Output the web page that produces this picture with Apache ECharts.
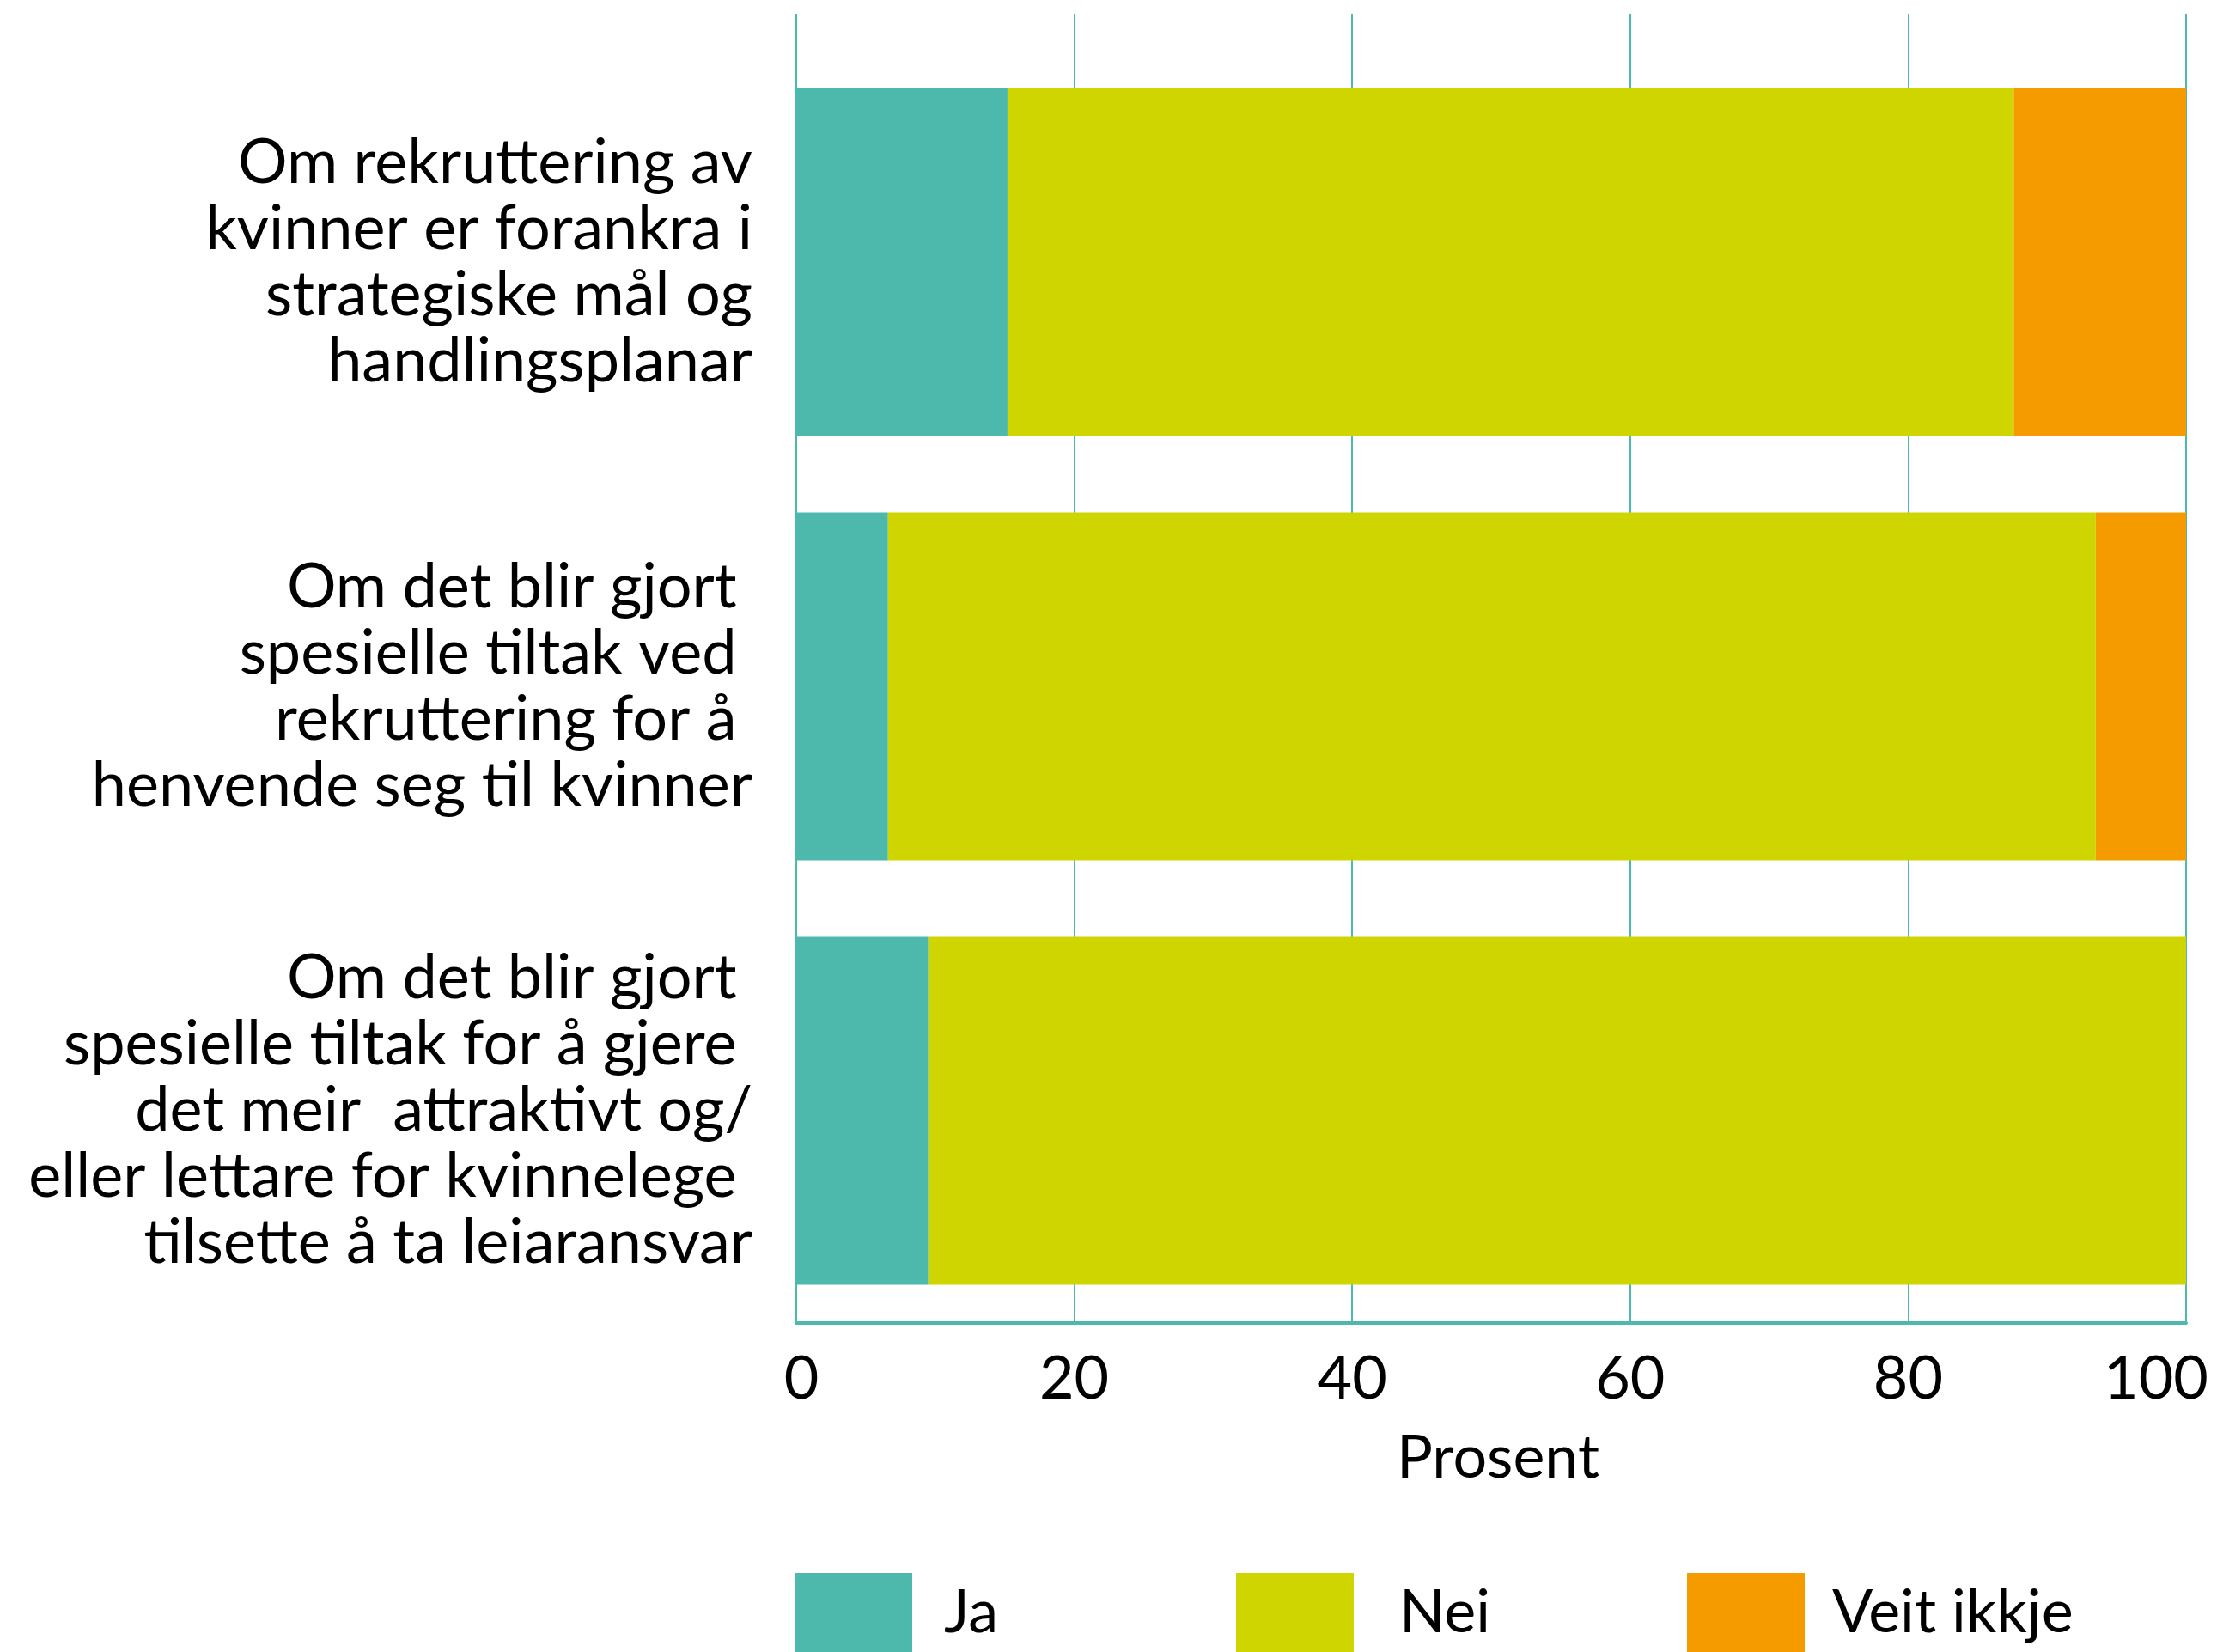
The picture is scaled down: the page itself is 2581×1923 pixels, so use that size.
<!DOCTYPE html>
<html>
<head>
<meta charset="utf-8">
<script src="https://cdn.jsdelivr.net/npm/echarts@6/dist/echarts.min.js"></script>
<style>
html,body{margin:0;padding:0;background:#fff;}
#c{width:2581px;height:1923px;}
</style>
</head>
<body>
<div id="c"></div>
<script>
var categories = [
  "Om rekruttering av\nkvinner er forankra i\nstrategiske mål og\nhandlingsplanar",
  "Om det blir gjort \nspesielle tiltak ved \nrekruttering for å \nhenvende seg til kvinner",
  "Om det blir gjort \nspesielle tiltak for å gjere \ndet meir  attraktivt og/\neller lettare for kvinnelege \ntilsette å ta leiaransvar"
];
var seriesNames = ["Ja", "Nei", "Veit ikkje"];
var ja = [15.2, 6.6, 9.5];
var nei = [72.4, 86.9, 90.5];
var veit = [12.4, 6.5, 0];
var xTicks = [0, 20, 40, 60, 80, 100];

var FONT = "Lato";
var teal = "#4DB9AD", lime = "#CED500", orange = "#F59B00";
var gridColor = "#4DB9AD";

var chart = echarts.init(document.getElementById('c'), null, {renderer: 'canvas'});
function legendAt(name, left, gap) {
  return {
    data: [name], left: left, top: 1831, orient: 'horizontal', padding: 0,
    icon: 'rect', itemWidth: 137, itemHeight: 92,
    textStyle: {color: '#000', fontFamily: FONT, fontSize: 70, padding: [16, 0, 0, gap]},
    selectedMode: false
  };
}
chart.setOption({
  backgroundColor: '#fff',
  animation: false,
  grid: [
    {left: 927, right: 36, top: 58, bottom: 383, containLabel: false},
    {left: 927, right: 36, top: 16, height: 42, containLabel: false}
  ],
  legend: [legendAt(seriesNames[0], 925, 32), legendAt(seriesNames[1], 1439, 48), legendAt(seriesNames[2], 1964, 27)],
  xAxis: [
    {
      type: 'value', gridIndex: 0, min: xTicks[0], max: xTicks[xTicks.length - 1], interval: 20,
      name: 'Prosent', nameLocation: 'middle', nameGap: 122,
      nameTextStyle: {color: '#000', fontFamily: FONT, fontSize: 70, padding: [0, 0, 0, 16]},
      axisLine: {show: true, lineStyle: {color: gridColor, width: 4}},
      axisTick: {show: false},
      axisLabel: {
        color: '#000', fontFamily: FONT, fontSize: 70, margin: 30,
        formatter: function (v) {
          if (v === xTicks[xTicks.length - 1]) return '{r|' + v + '}';
          if (v === xTicks[0]) return '{l|' + v + '}';
          return '' + v;
        },
        rich: {
          r: {color: '#000', fontFamily: FONT, fontSize: 70, padding: [0, 70, 0, 0]},
          l: {color: '#000', fontFamily: FONT, fontSize: 70, padding: [0, 0, 0, 12]}
        }
      },
      splitLine: {show: true, lineStyle: {color: gridColor, width: 2}}
    },
    {
      type: 'value', gridIndex: 1, min: xTicks[0], max: xTicks[xTicks.length - 1], interval: 20,
      axisLine: {show: false}, axisTick: {show: false}, axisLabel: {show: false},
      splitLine: {show: true, lineStyle: {color: gridColor, width: 2}}
    }
  ],
  yAxis: [
    {
      type: 'category', gridIndex: 0, data: categories, inverse: true,
      axisLine: {show: false}, axisTick: {show: false},
      axisLabel: {color: '#000', fontFamily: FONT, fontSize: 72, lineHeight: 77, margin: 51, align: 'right'}
    },
    {
      type: 'category', gridIndex: 1, data: [''], show: false
    }
  ],
  series: [
    {name: seriesNames[0], type: 'bar', stack: 't', data: ja, barWidth: 405, itemStyle: {color: teal}, xAxisIndex: 0, yAxisIndex: 0},
    {name: seriesNames[1], type: 'bar', stack: 't', data: nei, barWidth: 405, itemStyle: {color: lime}, xAxisIndex: 0, yAxisIndex: 0},
    {name: seriesNames[2], type: 'bar', stack: 't', data: veit, barWidth: 405, itemStyle: {color: orange}, xAxisIndex: 0, yAxisIndex: 0}
  ]
});
</script>
</body>
</html>
